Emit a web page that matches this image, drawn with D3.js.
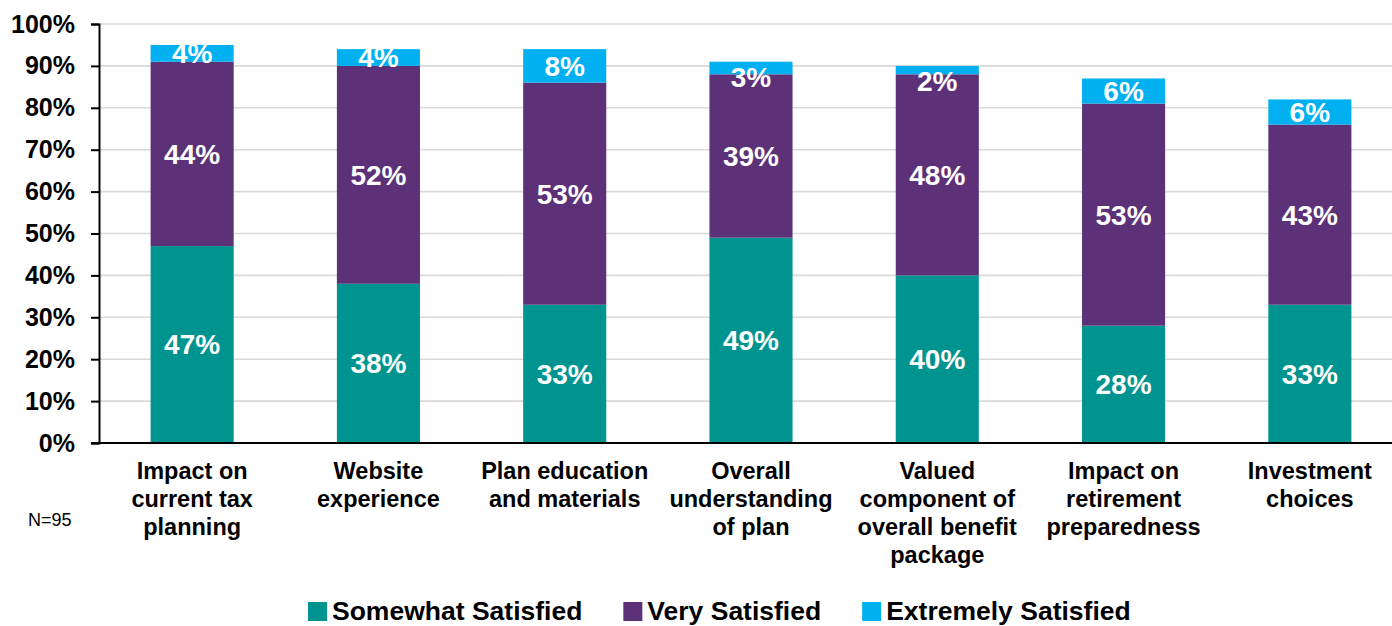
<!DOCTYPE html>
<html>
<head>
<meta charset="utf-8">
<script src="https://cdn.jsdelivr.net/npm/d3@7"></script>
<style>
  html, body { margin: 0; padding: 0; background: #fff; }
  svg { display: block; font-family: "Liberation Sans", Arial, sans-serif; }
</style>
</head>
<body>
<svg id="chart" width="1392" height="626"></svg>
<script>
// Satisfaction survey, share of respondents per aspect (percent)
const categories = [
  ["Impact on", "current tax", "planning"],
  ["Website", "experience"],
  ["Plan education", "and materials"],
  ["Overall", "understanding", "of plan"],
  ["Valued", "component of", "overall benefit", "package"],
  ["Impact on", "retirement", "preparedness"],
  ["Investment", "choices"]
];
const seriesNames = ["Somewhat Satisfied", "Very Satisfied", "Extremely Satisfied"];
const somewhatSatisfied = [47, 38, 33, 49, 40, 28, 33];
const verySatisfied     = [44, 52, 53, 39, 48, 53, 43];
const extremelySatisfied = [4, 4, 8, 3, 2, 6, 6];
const yTicks = [0, 10, 20, 30, 40, 50, 60, 70, 80, 90, 100];
const sampleNote = "N=95";

const colors = ["#009490", "#5C3178", "#00B0F0"];

const svg = d3.select("#chart");
const margin = { left: 99, right: 1403, top: 24, bottom: 443 };

const keys = categories.map((c, i) => i);
const rows = keys.map(i => ({
  i,
  s0: somewhatSatisfied[i],
  s1: verySatisfied[i],
  s2: extremelySatisfied[i]
}));
const stack = d3.stack().keys(["s0", "s1", "s2"]);
const layers = stack(rows);

const x = d3.scaleBand()
  .domain(keys)
  .range([margin.left, margin.right])
  .paddingInner(0.554)
  .paddingOuter(0.277);

const y = d3.scaleLinear()
  .domain([0, 100])
  .range([margin.bottom, margin.top]);

// Horizontal gridlines
svg.append("g")
  .selectAll("line")
  .data(yTicks.filter(t => t > 0))
  .join("line")
  .attr("x1", margin.left)
  .attr("x2", margin.right)
  .attr("y1", d => y(d))
  .attr("y2", d => y(d))
  .attr("stroke", "#d9d9d9")
  .attr("stroke-width", 1.6);

// Stacked bars
const layerG = svg.append("g")
  .selectAll("g")
  .data(layers)
  .join("g")
  .attr("fill", (d, k) => colors[k]);

layerG.selectAll("rect")
  .data(d => d)
  .join("rect")
  .attr("x", d => x(d.data.i))
  .attr("width", x.bandwidth())
  .attr("y", d => y(d[1]))
  .attr("height", d => y(d[0]) - y(d[1]));

// Segment value labels; labels of very thin segments sit just below the bar top
const labelSize = 28;
layers.forEach((layer, k) => {
  svg.append("g")
    .selectAll("text")
    .data(layer)
    .join("text")
    .attr("x", d => x(d.data.i) + x.bandwidth() / 2)
    .attr("y", d => {
      const v = d[1] - d[0];
      const center = (y(d[0]) + y(d[1])) / 2;
      const cy = v < 4 ? y(d[1]) + 15.5 : center;
      return cy + labelSize * 0.355;
    })
    .attr("text-anchor", "middle")
    .attr("fill", "#fff")
    .attr("font-weight", "bold")
    .attr("font-size", labelSize)
    .text(d => (d[1] - d[0]) + "%");
});

// Y axis
const yAxis = d3.axisLeft(y)
  .tickValues(yTicks)
  .tickFormat(d => d + "%")
  .tickSize(8)
  .tickPadding(16);
const yg = svg.append("g")
  .attr("transform", `translate(${margin.left},0)`)
  .call(yAxis);
yg.select(".domain").attr("stroke", "#000").attr("stroke-width", 2);
yg.selectAll(".tick line").attr("stroke", "#000").attr("stroke-width", 2);
yg.selectAll(".tick text")
  .attr("font-family", "'Liberation Sans', Arial, sans-serif")
  .attr("font-size", 25)
  .attr("font-weight", "bold")
  .attr("fill", "#000");

// X axis baseline
svg.append("line")
  .attr("x1", margin.left - 8)
  .attr("x2", margin.right)
  .attr("y1", y(0))
  .attr("y2", y(0))
  .attr("stroke", "#000")
  .attr("stroke-width", 2);

// Category labels
const catG = svg.append("g")
  .selectAll("text")
  .data(categories)
  .join("text")
  .attr("x", (d, i) => x(i) + x.bandwidth() / 2)
  .attr("y", 479)
  .attr("text-anchor", "middle")
  .attr("font-size", 23.5)
  .attr("font-weight", "bold")
  .attr("fill", "#000");
catG.selectAll("tspan")
  .data(d => d)
  .join("tspan")
  .attr("x", function () { return this.parentNode.getAttribute("x"); })
  .attr("dy", (d, j) => j === 0 ? 0 : 28)
  .text(d => d);

// Sample size note
svg.append("text")
  .attr("x", 28)
  .attr("y", 526)
  .attr("font-size", 18)
  .attr("fill", "#000")
  .text(sampleNote);

// Legend
const legend = svg.append("g").attr("transform", "translate(308,601)");
let lx = 0;
seriesNames.forEach((name, k) => {
  legend.append("rect")
    .attr("x", lx)
    .attr("y", 1)
    .attr("width", 19)
    .attr("height", 19)
    .attr("fill", colors[k]);
  const t = legend.append("text")
    .attr("x", lx + 24)
    .attr("y", 19)
    .attr("font-size", 26.5)
    .attr("font-weight", "bold")
    .attr("fill", "#000")
    .text(name);
  lx += 24 + t.node().getComputedTextLength() + 41;
});
</script>
</body>
</html>
